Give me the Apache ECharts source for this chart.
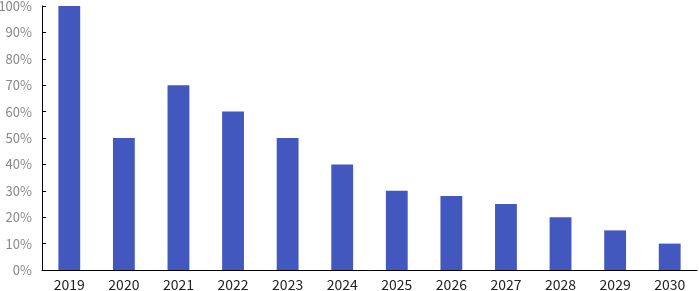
<!DOCTYPE html>
<html><head><meta charset="utf-8">
<script src="https://cdn.jsdelivr.net/npm/echarts@6/dist/echarts.min.js"></script>
<style>html,body{margin:0;padding:0;background:#fff}#c{width:699px;height:291px}</style>
</head><body><div id="c"></div>
<script>
const categories = ['2019','2020','2021','2022','2023','2024','2025','2026','2027','2028','2029','2030'];
const values = [100, 50, 70, 60, 50, 40, 30, 28, 25, 20, 15, 10];
const chart = echarts.init(document.getElementById('c'), null, {renderer:'canvas'});
chart.setOption({
  animation:false,
  grid:{left:42,right:2,top:6,bottom:21,containLabel:false,outerBoundsMode:'none'},
  xAxis:{type:'category',data:categories,
    axisLine:{lineStyle:{color:'#000',width:1}},
    axisTick:{show:false},
    axisLabel:{color:'#222',fontSize:14,fontFamily:'Noto Sans CJK SC',margin:8}},
  yAxis:{type:'value',min:0,max:100,interval:10,
    axisLine:{show:true,lineStyle:{color:'#000',width:1}},
    axisTick:{show:true,inside:true,length:4,lineStyle:{color:'#000'}},
    splitLine:{show:false},
    axisLabel:{color:'#888',fontSize:13,fontFamily:'Noto Sans CJK SC',margin:10,formatter:'{value}%'}},
  series:[{type:'bar',data:values,barWidth:'40%',itemStyle:{color:'#4358BF'}}]
});
</script></body></html>
